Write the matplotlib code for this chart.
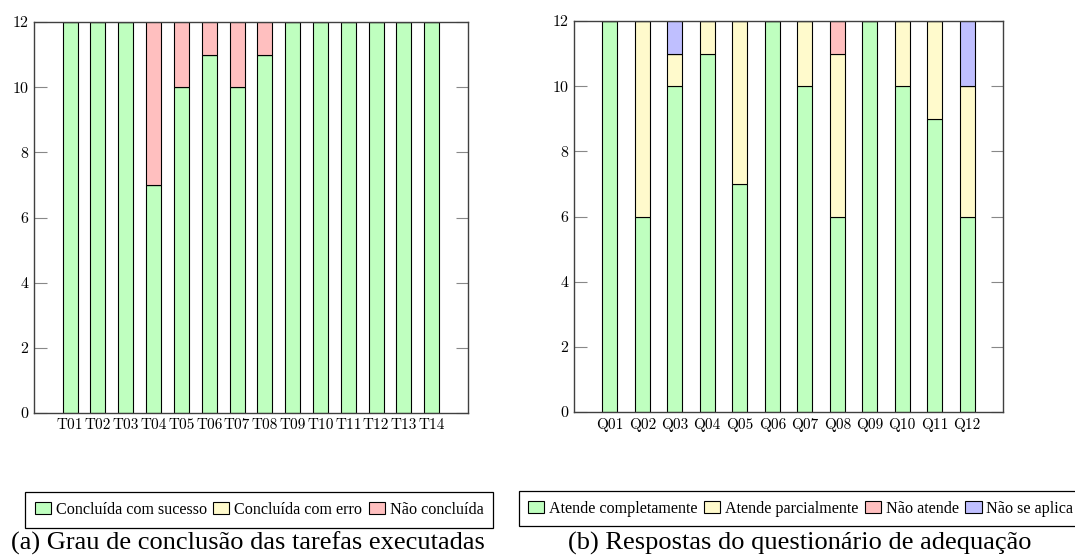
import matplotlib
matplotlib.use("Agg")
import matplotlib.pyplot as plt
import numpy as np

# --- Data ---

TASKS = ["T01", "T02", "T03", "T04", "T05", "T06", "T07",
         "T08", "T09", "T10", "T11", "T12", "T13", "T14"]
TASK_SUCCESS = [12, 12, 12, 7, 10, 11, 10, 11, 12, 12, 12, 12, 12, 12]
TASK_ERROR = [0, 0, 0, 0, 0, 0, 0, 0, 0, 0, 0, 0, 0, 0]
TASK_FAILED = [0, 0, 0, 5, 2, 1, 2, 1, 0, 0, 0, 0, 0, 0]
TASK_LABELS = ["Concluída com sucesso", "Concluída com erro", "Não concluída"]

QUESTIONS = ["Q01", "Q02", "Q03", "Q04", "Q05", "Q06",
             "Q07", "Q08", "Q09", "Q10", "Q11", "Q12"]
Q_FULL = [12, 6, 10, 11, 7, 12, 10, 6, 12, 10, 9, 6]
Q_PARTIAL = [0, 6, 1, 1, 5, 0, 2, 5, 0, 2, 3, 4]
Q_NOT = [0, 0, 0, 0, 0, 0, 0, 1, 0, 0, 0, 0]
Q_NA = [0, 0, 1, 0, 0, 0, 0, 0, 0, 0, 0, 2]
Q_LABELS = ["Atende completamente", "Atende parcialmente", "Não atende", "Não se aplica"]

# pgfplots-like pastel fills (color!25)
GREEN = "#bfffbf"
YELLOW = "#fffacc"
RED = "#ffbfbf"
BLUE = "#bfbfff"

TEXT_FONT = ["Liberation Serif", "DejaVu Serif"]
TICK_FONT = ["cmr10", "DejaVu Serif"]


def stacked(ax, cats, series, colors, labels, width):
    x = np.arange(len(cats))
    bottom = np.zeros(len(cats))
    handles = []
    for vals, col, lab in zip(series, colors, labels):
        vals = np.asarray(vals, dtype=float)
        h = ax.bar(x, vals, width, bottom=bottom, color=col,
                   edgecolor="black", linewidth=0.8, label=lab, zorder=2)
        handles.append(h)
        bottom += vals
    ax.set_xticks(x)
    ax.set_xticklabels(cats, family=TICK_FONT, fontsize=11)
    ax.set_ylim(0, 12)
    ax.set_yticks(range(0, 13, 2))
    ax.set_yticklabels([str(v) for v in range(0, 13, 2)], family=TICK_FONT, fontsize=11.5)
    ax.tick_params(axis="x", length=0, pad=4)
    ax.tick_params(axis="y", direction="in", length=9, width=0.8, color="#888888",
                   left=True, right=True, pad=4)
    for sp in ax.spines.values():
        sp.set_color("#404040")
        sp.set_linewidth(1.0)
    return handles


fig = plt.figure(figsize=(10.75, 5.56), dpi=100)

ax1 = fig.add_axes([0.0316, 0.2572, 0.4037, 0.7032])
h1 = stacked(ax1, TASKS, [TASK_SUCCESS, TASK_ERROR, TASK_FAILED],
             [GREEN, YELLOW, RED], TASK_LABELS, 0.54)
ax1.set_xlim(-1.3, len(TASKS) - 1 + 1.3)

ax2 = fig.add_axes([0.534, 0.259, 0.399, 0.7032])
h2 = stacked(ax2, QUESTIONS, [Q_FULL, Q_PARTIAL, Q_NOT, Q_NA],
             [GREEN, YELLOW, RED, BLUE], Q_LABELS, 0.46)
ax2.set_xlim(-1.1, len(QUESTIONS) - 1 + 1.1)

leg_kw = dict(loc="center", ncol=4, frameon=True, fancybox=False, framealpha=1,
              edgecolor="black", handlelength=1.0, handleheight=0.8,
              handletextpad=0.3, columnspacing=0.4, borderpad=0.6,
              prop={"family": TEXT_FONT, "size": 11.6})
leg1 = fig.legend(handles=h1, labels=TASK_LABELS, bbox_to_anchor=(0.241, 0.083), **leg_kw)
leg1.get_frame().set_linewidth(0.9)
leg2 = fig.legend(handles=h2, labels=Q_LABELS, bbox_to_anchor=(0.745, 0.085), **leg_kw)
leg2.get_frame().set_linewidth(0.9)

fig.text(0.231, 0.022, "(a) Grau de conclusão das tarefas executadas",
         ha="center", va="center", family=TEXT_FONT, fontsize=19)
fig.text(0.744, 0.022, "(b) Respostas do questionário de adequação",
         ha="center", va="center", family=TEXT_FONT, fontsize=19)

fig.savefig("out.png", dpi=100)
